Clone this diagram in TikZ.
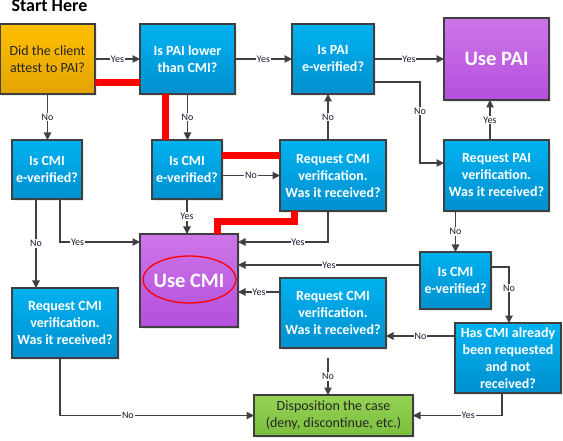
\documentclass[tikz,border=0pt]{standalone}
\usepackage{fontspec}
\setmainfont{Carlito}
\usetikzlibrary{arrows.meta,calc,shadows}
\definecolor{blueT}{HTML}{00B2F0}
\definecolor{blueB}{HTML}{0090CF}
\definecolor{purpT}{HTML}{CD76E8}
\definecolor{purpB}{HTML}{B44FDD}
\definecolor{oranT}{HTML}{FFC000}
\definecolor{oranB}{HTML}{E3A200}
\definecolor{grenT}{HTML}{96D254}
\definecolor{grenB}{HTML}{7BBF3E}
\definecolor{bordc}{HTML}{3F3F3F}
\definecolor{linec}{HTML}{404040}
\definecolor{labelc}{HTML}{1A1A33}
\definecolor{darkt}{HTML}{262626}
\definecolor{hilite}{HTML}{FF0000}
\begin{document}
\begin{tikzpicture}[x=1pt,y=-1pt,
  base/.style={draw=bordc, line width=1.1pt, inner sep=0pt, outer sep=0pt, align=center,
    drop shadow={shadow xshift=2pt,shadow yshift=-2pt,fill=black!16}},
  bluebox/.style={base, top color=blueT, bottom color=blueB, text=white, font=\bfseries\fontsize{14}{17}\selectfont},
  purpbox/.style={base, top color=purpT, bottom color=purpB, text=white, font=\bfseries\fontsize{20.5}{24}\selectfont},
  oranbox/.style={base, top color=oranT, bottom color=oranB, text=darkt, font=\fontsize{14}{17}\selectfont},
  grenbox/.style={base, top color=grenT, bottom color=grenB, text=darkt, font=\fontsize{14}{17}\selectfont},
  arr/.style={draw=linec, line width=1.1pt, -{Triangle[length=7.5pt,width=7.5pt]}},
  hipath/.style={draw=hilite, line width=7pt, line join=miter},
  lbl/.style={fill=white, inner sep=0.8pt, text=labelc, font=\fontsize{10}{11}\selectfont}]
\useasboundingbox (0,0) rectangle (563,441);

\node[anchor=base west, font=\bfseries\fontsize{18}{20}\selectfont, text=black] (title) at (8,12) {Start Here};

\node[oranbox, minimum width=95pt, minimum height=70pt] (did) at (47.5,59) {Did the client\\attest to PAI?};
\node[bluebox, minimum width=95pt, minimum height=70pt] (lower) at (187.5,59) {Is PAI lower\\than CMI?};
\node[bluebox, minimum width=82pt, minimum height=70pt] (paiv) at (333,59) {Is PAI\\e-verified?};
\node[purpbox, minimum width=105pt, minimum height=82pt] (usepai) at (496.5,59) {Use PAI};
\node[bluebox, minimum width=70pt, minimum height=59pt] (cmiL) at (47,169.5) {Is CMI\\e-verified?};
\node[bluebox, minimum width=70pt, minimum height=59pt] (cmiM) at (187,169.5) {Is CMI\\e-verified?};
\node[bluebox, minimum width=106pt, minimum height=71pt] (reqMR) at (333,175.5) {Request CMI\\verification.\\Was it received?};
\node[bluebox, minimum width=105pt, minimum height=71pt] (reqPAI) at (496.5,175.5) {Request PAI\\verification.\\Was it received?};
\node[purpbox, minimum width=98pt, minimum height=93pt] (usecmi) at (189,280.5) {Use CMI};
\node[bluebox, minimum width=106pt, minimum height=70pt] (reqL) at (65,323) {Request CMI\\verification.\\Was it received?};
\node[bluebox, minimum width=71pt, minimum height=57pt] (cmiR) at (455.5,280.5) {Is CMI\\e-verified?};
\node[bluebox, minimum width=106pt, minimum height=70pt] (has) at (508,358) {Has CMI already\\been requested\\and not\\received?};
\node[bluebox, minimum width=106pt, minimum height=70pt] (reqMB) at (333,313) {Request CMI\\verification.\\Was it received?};
\node[grenbox, minimum width=159pt, minimum height=41pt] (disp) at (333.5,415.5) {Disposition the case\\(deny, discontinue, etc.)};

\draw[hilite, line width=1.3pt] ($(usecmi.center)+(0.5,-1)$) ellipse [x radius=46.5pt, y radius=23.5pt];

% connectors
\draw[arr] (did.east) -- node[lbl]{Yes} (lower.west);
\draw[arr] (lower.east) -- node[lbl]{Yes} (paiv.west);
\draw[arr] (paiv.east) -- node[lbl]{Yes} (usepai.west);
\draw[arr] ($(paiv.east)+(0,23)$) -- ++(46,0) |- node[lbl,pos=0.18]{No} ($(reqPAI.west)+(0,-12.5)$);
\draw[arr] ($(reqPAI.north)+(-6.5,0)$) -- node[lbl]{Yes} ($(usepai.south)+(-6.5,0)$);
\draw[arr] (did.south) -- node[lbl]{No} (did.south |- cmiL.north);
\draw[arr] (lower.south) -- node[lbl]{No} (lower.south |- cmiM.north);
\draw[arr] (cmiM.east |- reqMR.west) -- node[lbl]{No} (reqMR.west);
\draw[arr] ($(reqMR.north)+(-5,0)$) -- node[lbl]{No} ($(paiv.south)+(-5,0)$);
\draw[arr] ($(reqMR.south)+(-5,0)$) |- node[lbl,pos=0.667]{Yes} ($(usecmi.east)+(0,-38.5)$);
\draw[arr] (cmiM.south) -- node[lbl]{Yes} (cmiM.south |- usecmi.north);
\draw[arr] ($(cmiL.south)+(13,0)$) |- node[lbl,pos=0.61]{Yes} ($(usecmi.west)+(0,-38.5)$);
\draw[arr] ($(cmiL.south)+(-11,0)$) coordinate (cl) -- node[lbl]{No} (cl |- reqL.north);
\draw[arr] ($(reqL.south)+(-5,0)$) |- node[lbl,pos=0.675]{No} (disp.west);
\draw[arr] (cmiR.north |- reqPAI.south) -- node[lbl]{No} (cmiR.north);
\draw[arr] ($(cmiR.west)+(0,-15.5)$) coordinate (cw) -- node[lbl]{Yes} (usecmi.east |- cw);
\draw[arr] ($(cmiR.east)+(0,-13.5)$) -| node[lbl,pos=0.69]{No} ($(has.north)+(1,0)$);
\draw[arr] ($(has.west)+(0,-22)$) coordinate (hw) -- node[lbl]{No} (reqMB.east |- hw);
\draw[arr] ($(reqMB.west)+(0,-21)$) coordinate (mw) -- node[lbl]{Yes} (usecmi.east |- mw);
\draw[arr] ($(reqMB.south)+(-5,10)$) coordinate (mb) -- node[lbl]{No} (mb |- disp.north);
\draw[arr] ($(has.south)+(-6,0)$) |- node[lbl,pos=0.69]{Yes} (disp.east);

% highlighted path
\draw[hipath] ($(did.east)+(0,23.5)$) coordinate (r1) -- (lower.west |- r1);
\draw[hipath] ($(lower.south)+(-22,0)$) coordinate (r2) -- (r2 |- cmiM.north);
\draw[hipath] ($(cmiM.east)+(0,-13.5)$) coordinate (r3) -- (reqMR.west |- r3);
\draw[hipath] ($(reqMR.south)+(-39,0)$) -- ++(0,10.5) -| ($(usecmi.north)+(28,0)$);
\end{tikzpicture}
\end{document}
